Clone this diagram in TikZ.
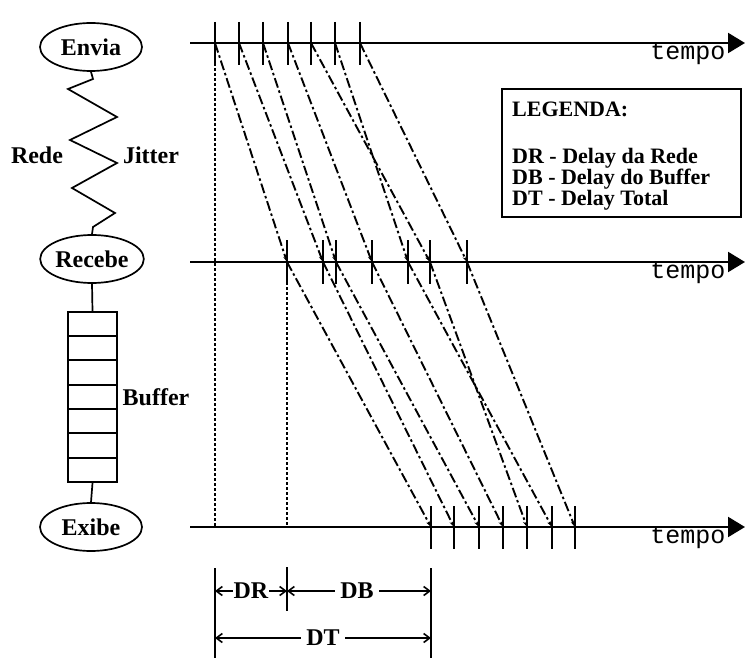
\documentclass[tikz,border=0pt]{standalone}
\usepackage{fontspec}
\setmainfont{Liberation Serif}
\setmonofont{Liberation Mono}
\usetikzlibrary{shapes.geometric,arrows.meta}
\begin{document}
\begin{tikzpicture}[x=1pt,y=-1pt,
  lbl/.style={font=\fontsize{24}{24}\selectfont\bfseries, inner sep=1pt},
  proc/.style={ellipse, draw, line width=1.7pt, minimum width=102pt, minimum height=48pt, inner sep=0pt, font=\fontsize{24}{24}\selectfont\bfseries},
  axis/.style={line width=2.2pt, -{Triangle[length=17pt,width=20pt]}},
  tick/.style={line width=2pt},
  pkt/.style={line width=1.9pt, dash pattern=on 10pt off 3pt on 2.5pt off 3pt, -{Stealth[length=6pt,width=4pt]}},
  dotv/.style={line width=1.9pt, dash pattern=on 3pt off 2pt},
  tmp/.style={font=\fontsize{25}{25}\selectfont\ttfamily, inner sep=0pt},
  dim/.style={line width=1.6pt, {Straight Barb[length=6pt,width=9pt]}-{Straight Barb[length=6pt,width=9pt]}},
  dimlbl/.style={font=\fontsize{24}{24}\selectfont\bfseries, fill=white, inner sep=2pt},
  legtxt/.style={anchor=base west, font=\fontsize{22}{19}\selectfont\bfseries, inner sep=0pt, text height=14pt, text depth=4pt}
]
\useasboundingbox (0,0) rectangle (745,658);

% left side
\node[proc] (envia) at (91,47) {Envia};
\node[proc] (recebe) at (92,259) {Recebe};
\node[proc] (exibe) at (91,527) {Exibe};
\draw[line width=1.7pt] (envia.south) -- (93,79) -- (68,89) -- (117,117) -- (70,140) -- (117,163) -- (72,188) -- (115,213) -- (93,227) -- (recebe.north);
\node[lbl] (rede) at (37,155) {Rede};
\node[lbl] (jitter) at (151,155) {Jitter};
\node[draw, line width=2pt, minimum width=49pt, minimum height=170pt, inner sep=0pt] (buf) at (92.5,397) {};
\foreach \y in {336,360,385,409,433,458} \draw[line width=1.8pt] (68,\y) -- (117,\y);
\draw[line width=1.7pt] (recebe.south) -- (buf.north);
\draw[line width=1.7pt] (buf.south) -- (exibe.north);
\node[lbl] (buflbl) at (156,397) {Buffer};

% time axes
\coordinate (a1s) at (190,43); \coordinate (a1e) at (745,43);
\coordinate (a2s) at (190,262); \coordinate (a2e) at (745,262);
\coordinate (a3s) at (190,527); \coordinate (a3e) at (745,527);
\draw[axis] (a1s) -- (a1e);
\draw[axis] (a2s) -- (a2e);
\draw[axis] (a3s) -- (a3e);
\node[tmp] (tp1) at (688,54) {tempo};
\node[tmp] (tp2) at (688,273) {tempo};
\node[tmp] (tp3) at (688,538) {tempo};

% ticks
\foreach \n/\x in {1/215,2/239,3/263,4/288,5/311,6/335,7/360} {
  \coordinate (t\n) at (\x,43);
  \draw[tick] (\x,22) -- (\x,65);
}
\foreach \n/\x in {1/287,2/323,3/336,4/372,5/408,6/430,7/467} {
  \coordinate (m\n) at (\x,262);
  \draw[tick] (\x,240) -- (\x,284);
}
\foreach \n/\x in {1/431,2/454,3/479,4/503,5/527,6/552,7/575} {
  \coordinate (b\n) at (\x,527);
  \draw[tick] (\x,506) -- (\x,549);
}

% packets
\foreach \a/\b/\c in {1/1/1,2/2/2,3/3/3,4/4/4,5/6/5,6/5/6,7/7/7} {
  \draw[pkt] (t\a) -- (m\b);
  \draw[pkt] (m\b) -- (b\c);
}

% vertical dotted
\coordinate (d1) at (215,527);
\coordinate (d2) at (287,527);
\draw[dotv] (t1) -- (d1);
\draw[dotv] (m1) -- (d2);

% dimension lines
\coordinate (v1t) at (215,568); \coordinate (v1b) at (215,658);
\coordinate (v2t) at (287,567); \coordinate (v2b) at (287,611);
\coordinate (v3t) at (431,568); \coordinate (v3b) at (431,658);
\draw[line width=1.6pt] (v1t) -- (v1b);
\draw[line width=1.6pt] (v2t) -- (v2b);
\draw[line width=1.6pt] (v3t) -- (v3b);
\coordinate (drL) at (215,591); \coordinate (drR) at (287,591);
\coordinate (dbL) at (287,591); \coordinate (dbR) at (431,591);
\coordinate (dtL) at (215,638); \coordinate (dtR) at (431,638);
\draw[dim] (drL) -- node[dimlbl, inner sep=0.3pt] (dr) {DR} (drR);
\draw[dim] (dbL) -- node[dimlbl, inner sep=5pt, xshift=-2pt] (db) {DB} (dbR);
\draw[dim] (dtL) -- node[dimlbl, inner sep=5pt] (dt) {DT} (dtR);

% legend
\node[draw, line width=1.6pt, minimum width=239pt, minimum height=128pt, inner sep=0pt] (leg) at (621.5,153) {};
\node[legtxt] (l0) at (512,117) {LEGENDA:};
\node[legtxt] (l1) at (512,164) {DR - Delay da Rede};
\node[legtxt] (l2) at (512,185) {DB - Delay do Buffer};
\node[legtxt] (l3) at (512,206) {DT - Delay Total};
\end{tikzpicture}
\end{document}
